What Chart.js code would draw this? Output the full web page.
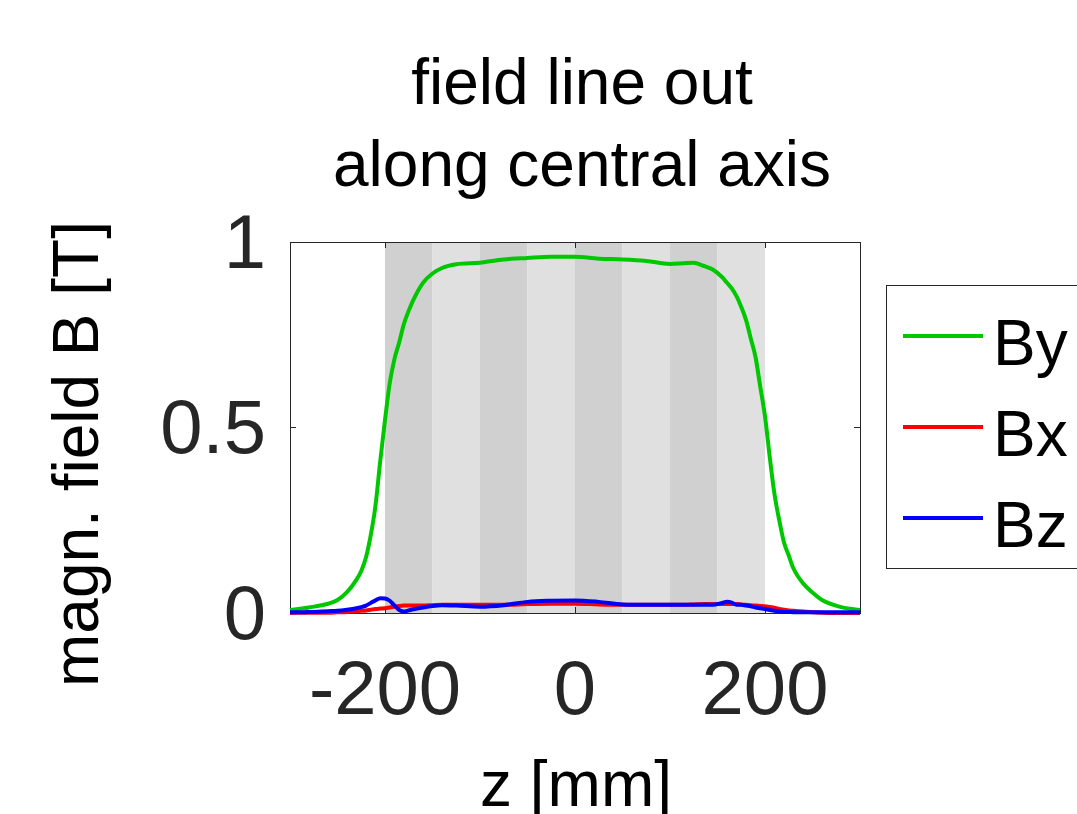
<!DOCTYPE html>
<html>
<head>
<meta charset="utf-8">
<script src="https://cdn.jsdelivr.net/npm/chart.js@4.4.1/dist/chart.umd.min.js"></script>
<style>
  html, body { margin: 0; padding: 0; background: #fff; }
  #wrap { width: 1077px; height: 814px; overflow: hidden; }
</style>
</head>
<body>
<div id="wrap"><canvas id="fieldChart" width="1077" height="814"></canvas></div>
<script>
// positions along the axis (mm)
var zPos = [-300, -280, -260, -250, -240, -230, -225, -220, -215, -210, -205, -200, -195, -190, -185, -180, -175, -170, -160, -150, -140, -125, -100, -75, -50, -25, 0, 25, 50, 75, 100, 115, 125, 135, 145, 155, 160, 165, 170, 175, 180, 185, 190, 195, 200, 205, 210, 215, 220, 225, 230, 240, 250, 260, 280, 300];

// field components (T)
var byVals = [0.008, 0.015, 0.025, 0.035, 0.056, 0.09, 0.113, 0.15, 0.21, 0.29, 0.41, 0.52, 0.62, 0.685, 0.73, 0.78, 0.815, 0.845, 0.89, 0.915, 0.93, 0.94, 0.944, 0.953, 0.957, 0.96, 0.96, 0.955, 0.953, 0.949, 0.941, 0.943, 0.944, 0.936, 0.926, 0.905, 0.89, 0.875, 0.854, 0.825, 0.79, 0.74, 0.69, 0.61, 0.53, 0.42, 0.32, 0.25, 0.19, 0.155, 0.12, 0.08, 0.055, 0.035, 0.016, 0.008];
var bxVals = [0, 0.001, 0.001, 0.002, 0.003, 0.005, 0.006, 0.007, 0.009, 0.011, 0.012, 0.013, 0.015, 0.017, 0.019, 0.02, 0.02, 0.02, 0.02, 0.021, 0.022, 0.022, 0.022, 0.022, 0.024, 0.025, 0.025, 0.023, 0.022, 0.022, 0.022, 0.022, 0.023, 0.024, 0.024, 0.024, 0.024, 0.024, 0.024, 0.023, 0.022, 0.021, 0.02, 0.019, 0.018, 0.016, 0.014, 0.011, 0.009, 0.007, 0.006, 0.004, 0.002, 0.001, 0, 0];
var bzVals = [0.002, 0.003, 0.005, 0.006, 0.009, 0.013, 0.016, 0.02, 0.027, 0.034, 0.04, 0.039, 0.033, 0.02, 0.008, 0.004, 0.007, 0.01, 0.015, 0.019, 0.021, 0.02, 0.017, 0.021, 0.03, 0.033, 0.034, 0.03, 0.023, 0.022, 0.022, 0.022, 0.022, 0.022, 0.022, 0.027, 0.03, 0.028, 0.022, 0.022, 0.02, 0.018, 0.015, 0.013, 0.011, 0.008, 0.006, 0.004, 0.003, 0.003, 0.002, 0.002, 0.002, 0.002, 0.002, 0.002];

var seriesNames = ["By", "Bx", "Bz"];
var seriesColors = ["#00c800", "#ff0000", "#0000ff"];

var xTicks = [-200, 0, 200];
var yTicks = [0, 0.5, 1];

// shaded magnet segments (mm)
var bandEdges = [-200, -150, -100, -50, 0, 50, 100, 150, 200];
var bandColors = ["#d0d0d0", "#e0e0e0"];

var titleLines = ["field line out", "along central axis"];
var xLabel = "z [mm]";
var yLabel = "magn. field B [T]";

var FONT = '"Liberation Sans", Arial, sans-serif';
var AXIS_COLOR = "#262626";

function toPoints(vals) {
    return zPos.map(function (z, i) { return { x: z, y: vals[i] }; });
}

var seriesVals = [byVals, bxVals, bzVals];
var datasets = seriesNames.map(function (name, i) {
    return {
        label: name,
        data: toPoints(seriesVals[i]),
        borderColor: seriesColors[i],
        backgroundColor: seriesColors[i],
        borderWidth: 4,
        pointRadius: 0,
        cubicInterpolationMode: "monotone",
        fill: false,
        clip: 4,
        order: seriesNames.length - i
    };
});

// background + alternating bands under the plot
var bandsPlugin = {
    id: "bands",
    beforeDraw: function (chart) {
        var ctx = chart.ctx;
        var area = chart.chartArea;
        var xs = chart.scales.x;
        ctx.save();
        ctx.fillStyle = "#ffffff";
        ctx.fillRect(0, 0, chart.width, chart.height);
        for (var i = 0; i < bandEdges.length - 1; i++) {
            var x0 = xs.getPixelForValue(bandEdges[i]);
            var x1 = xs.getPixelForValue(bandEdges[i + 1]);
            ctx.fillStyle = bandColors[i % 2];
            ctx.fillRect(x0, area.top, x1 - x0, area.bottom - area.top);
        }
        ctx.restore();
    }
};

// titles, axis labels and boxed legend
var textPlugin = {
    id: "texts",
    afterDraw: function (chart) {
        var ctx = chart.ctx;
        ctx.save();
        ctx.fillStyle = "#000000";
        ctx.textAlign = "center";
        ctx.textBaseline = "alphabetic";
        ctx.font = "64px " + FONT;
        ctx.fillText(titleLines[0], 582, 104);
        ctx.fillText(titleLines[1], 582, 186);

        ctx.fillText(xLabel, 576, 806);

        ctx.save();
        ctx.translate(98, 454);
        ctx.rotate(-Math.PI / 2);
        ctx.fillText(yLabel, 0, 0);
        ctx.restore();

        // legend
        ctx.fillStyle = "#ffffff";
        ctx.fillRect(887, 285, 300, 283);
        ctx.strokeStyle = AXIS_COLOR;
        ctx.lineWidth = 1;
        ctx.strokeRect(886.5, 285.5, 300, 283);
        ctx.textAlign = "left";
        ctx.font = "64px " + FONT;
        chart.data.datasets.forEach(function (ds, i) {
            var y = 336 + i * 91;
            ctx.strokeStyle = ds.borderColor;
            ctx.lineWidth = 4;
            ctx.beginPath();
            ctx.moveTo(903, y);
            ctx.lineTo(983, y);
            ctx.stroke();
            ctx.fillStyle = "#000000";
            ctx.fillText(ds.label, 993, y + 29);
        });
        ctx.restore();
    }
};

function fixedTicks(list) {
    return function (scale) {
        scale.ticks = list.map(function (v) { return { value: v }; });
    };
}

var tickFont = { family: FONT, size: 76 };

new Chart(document.getElementById("fieldChart").getContext("2d"), {
    type: "line",
    data: { datasets: datasets },
    plugins: [bandsPlugin, textPlugin],
    options: {
        responsive: false,
        animation: false,
        devicePixelRatio: 1,
        layout: { padding: { left: 0, top: 242, right: 217, bottom: 71 } },
        plugins: {
            legend: { display: false },
            tooltip: { enabled: false },
            title: { display: false }
        },
        scales: {
            x: {
                type: "linear",
                position: "bottom",
                min: -300,
                max: 300,
                afterBuildTicks: fixedTicks(xTicks),
                afterFit: function (s) { s.height = 130; },
                grid: { drawOnChartArea: false, drawTicks: true, tickLength: -6, color: AXIS_COLOR },
                border: { display: true, color: AXIS_COLOR, width: 1 },
                ticks: {
                    padding: 40, color: AXIS_COLOR, font: tickFont,
                    maxRotation: 0, autoSkip: false,
                    callback: function (v) { return String(v); }
                }
            },
            x2: {
                type: "linear",
                position: "top",
                min: -300,
                max: 300,
                afterBuildTicks: fixedTicks(xTicks),
                afterFit: function (s) { s.height = 0; },
                grid: { drawOnChartArea: false, drawTicks: true, tickLength: -6, color: AXIS_COLOR },
                border: { display: true, color: AXIS_COLOR, width: 1 },
                ticks: { display: false }
            },
            y: {
                type: "linear",
                position: "left",
                min: 0,
                max: 1,
                afterBuildTicks: fixedTicks(yTicks),
                afterFit: function (s) { s.width = 290; },
                grid: { drawOnChartArea: false, drawTicks: true, tickLength: -6, color: AXIS_COLOR },
                border: { display: true, color: AXIS_COLOR, width: 1 },
                ticks: {
                    padding: 30, color: AXIS_COLOR, font: tickFont, labelOffset: 5,
                    callback: function (v) { return String(v); }
                }
            },
            y2: {
                type: "linear",
                position: "right",
                min: 0,
                max: 1,
                afterBuildTicks: fixedTicks(yTicks),
                afterFit: function (s) { s.width = 0; },
                grid: { drawOnChartArea: false, drawTicks: true, tickLength: -6, color: AXIS_COLOR },
                border: { display: true, color: AXIS_COLOR, width: 1 },
                ticks: { display: false }
            }
        }
    }
});
</script>
</body>
</html>
